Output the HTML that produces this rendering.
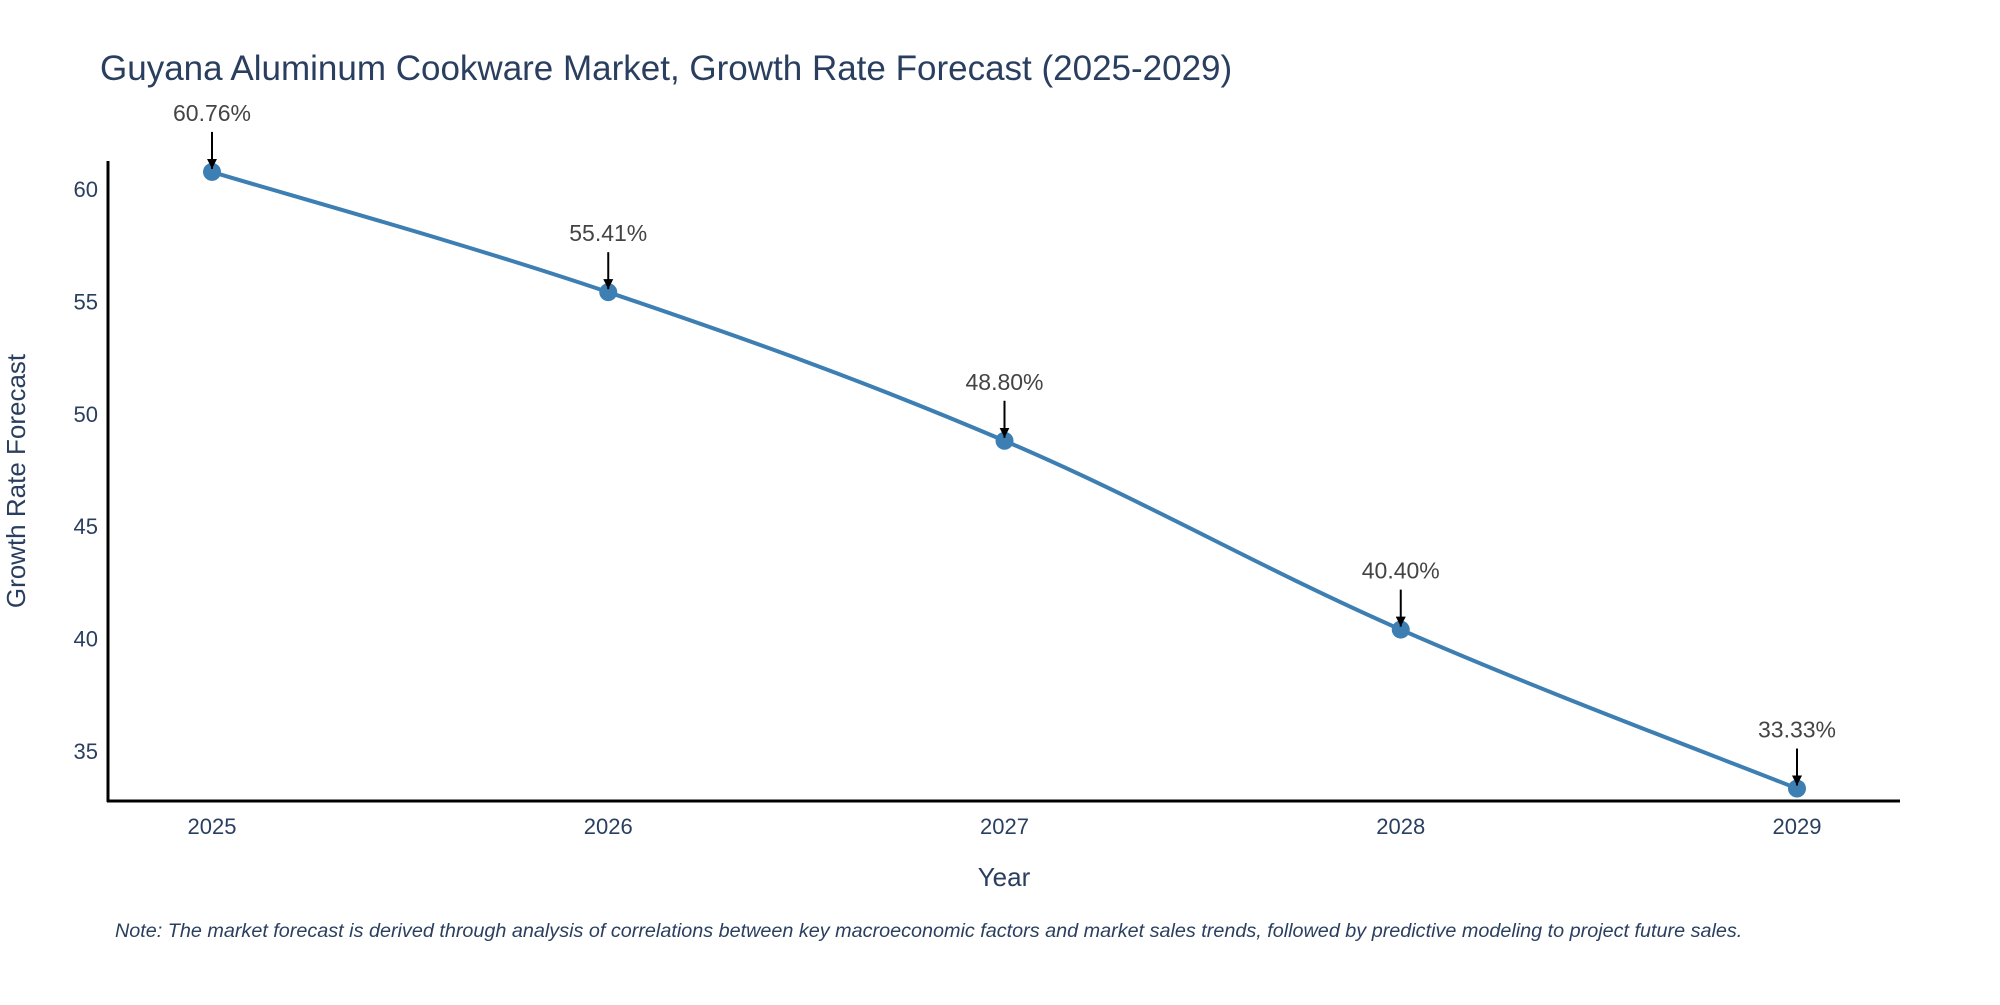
<!DOCTYPE html>
<html><head><meta charset="utf-8"><style>
body{margin:0;background:#fff;}
svg text{font-family:"Liberation Sans",sans-serif;}
</style></head><body>
<svg width="2000" height="1000" xmlns="http://www.w3.org/2000/svg">
<defs><marker id="ah" viewBox="0 0 10 10" refX="10" refY="5" markerWidth="5" markerHeight="5" orient="auto"><path d="M0,0 L10,5 L0,10 z" fill="#000"/></marker></defs>
<text x="100" y="80" font-size="35" fill="#2a3f5f">Guyana Aluminum Cookware Market, Growth Rate Forecast (2025-2029)</text>
<g id="yticks"></g><g id="xticks"></g>
<line x1="108" y1="161" x2="108" y2="802" stroke="#000" stroke-width="3"/>
<line x1="107" y1="801" x2="1900" y2="801" stroke="#000" stroke-width="3"/>
<path id="line" fill="none" stroke="#3d7fb2" stroke-width="4"/>
<g id="pts"></g>
<text x="25" y="481" font-size="26" fill="#2a3f5f" text-anchor="middle" transform="rotate(-90 25 481)">Growth Rate Forecast</text>
<text x="1004" y="886" font-size="26" fill="#2a3f5f" text-anchor="middle">Year</text>
<text x="115" y="937" font-size="19.8" font-style="italic" fill="#2a3f5f">Note: The market forecast is derived through analysis of correlations between key macroeconomic factors and market sales trends, followed by predictive modeling to project future sales.</text>
</svg>
<script>
const years=["2025","2026","2027","2028","2029"];
const values=[60.76,55.41,48.80,40.40,33.33];
const labels=["60.76%","55.41%","48.80%","40.40%","33.33%"];
const yTicks=[35,40,45,50,55,60];
const NS="http://www.w3.org/2000/svg";
function xS(i){return 212+i*(1797-212)/4;}
function yS(v){return 189+(60-v)*(751-189)/25;}
function mk(t,a){const e=document.createElementNS(NS,t);for(const k in a)e.setAttribute(k,a[k]);return e;}
const yt=document.getElementById('yticks');
yTicks.forEach(v=>{const t=mk('text',{x:98,y:yS(v)+8,'font-size':22,fill:'#2a3f5f','text-anchor':'end'});


t.textContent=v;yt.appendChild(t);});
const xt=document.getElementById('xticks');
years.forEach((y,i)=>{const t=mk('text',{x:xS(i),y:834,'font-size':22,fill:'#2a3f5f','text-anchor':'middle'});


t.textContent=y;xt.appendChild(t);});
const P=values.map((v,i)=>[xS(i),yS(v)]);
let d="M"+P[0][0]+","+P[0][1];const k=0.18;
for(let i=0;i<P.length-1;i++){const p0=P[Math.max(0,i-1)],p1=P[i],p2=P[i+1],p3=P[Math.min(P.length-1,i+2)];
d+=` C${p1[0]+(p2[0]-p0[0])*k},${p1[1]+(p2[1]-p0[1])*k} ${p2[0]-(p3[0]-p1[0])*k},${p2[1]-(p3[1]-p1[1])*k} ${p2[0]},${p2[1]}`;}
document.getElementById('line').setAttribute('d',d);
const g=document.getElementById('pts');
P.forEach((p,i)=>{const c=mk('circle',{cx:p[0],cy:p[1],r:9,fill:'#3d7fb2'});


g.appendChild(c);
const a=mk('line',{x1:p[0],y1:p[1]-40,x2:p[0],y2:p[1]-3,stroke:'#000','stroke-width':2,'marker-end':'url(#ah)'});


g.appendChild(a);
const t=mk('text',{x:p[0],y:p[1]-51,'font-size':23,fill:'#444','text-anchor':'middle'});


t.textContent=labels[i];g.appendChild(t);});
</script>
</body></html>
